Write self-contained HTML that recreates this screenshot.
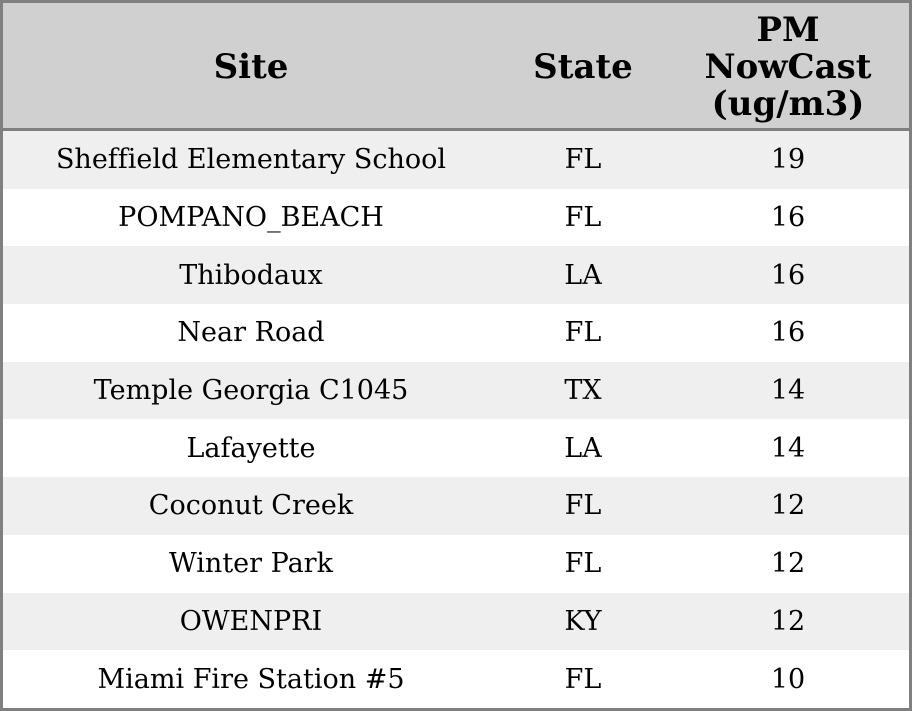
<!DOCTYPE html>
<html><head><style>
html,body{margin:0;padding:0;background:#fff;}
.wrap{position:absolute;left:0;top:0;width:906px;height:705px;border:3px solid #808080;overflow:hidden;}
table{border-collapse:collapse;width:906px;table-layout:fixed;font-family:"DejaVu Serif","Liberation Serif",serif;font-variant-ligatures:none;}
th{background:#d0d0d0;height:122px;font-size:34px;font-weight:bold;line-height:37px;padding:3px 0 0 0;text-align:center;border-bottom:3px solid #808080;}
td{height:57.7px;padding:0;text-align:center;font-size:27px;}
tr.g td{background:#efefef;}
</style></head><body>
<div class="wrap">
<table>
<colgroup><col style="width:496px"><col style="width:168px"><col style="width:242px"></colgroup>
<tr><th>Site</th><th>State</th><th>PM<br>NowCast<br>(ug/m3)</th></tr>
<tr class="g"><td>Sheffield Elementary School</td><td>FL</td><td>19</td></tr>
<tr><td>POMPANO_BEACH</td><td>FL</td><td>16</td></tr>
<tr class="g"><td>Thibodaux</td><td>LA</td><td>16</td></tr>
<tr><td>Near Road</td><td>FL</td><td>16</td></tr>
<tr class="g"><td>Temple Georgia C1045</td><td>TX</td><td>14</td></tr>
<tr><td>Lafayette</td><td>LA</td><td>14</td></tr>
<tr class="g"><td>Coconut Creek</td><td>FL</td><td>12</td></tr>
<tr><td>Winter Park</td><td>FL</td><td>12</td></tr>
<tr class="g"><td>OWENPRI</td><td>KY</td><td>12</td></tr>
<tr><td>Miami Fire Station #5</td><td>FL</td><td>10</td></tr>
</table>
</div>
</body></html>
